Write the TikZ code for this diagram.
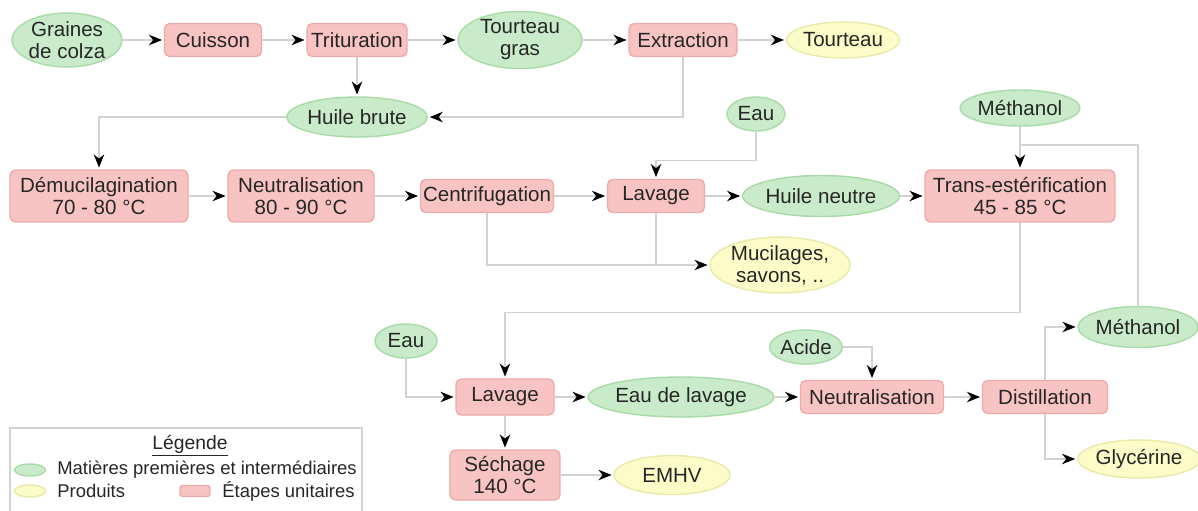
\documentclass[tikz,border=0pt]{standalone}
\usepackage{fontspec}
\setmainfont{Liberation Sans}
\usetikzlibrary{arrows.meta,shapes.geometric}
\definecolor{vert}{HTML}{C9EBC9}
\definecolor{vertbord}{HTML}{A8DBA8}
\definecolor{rose}{HTML}{F8C3C3}
\definecolor{rosebord}{HTML}{F0AAAA}
\definecolor{jaune}{HTML}{FCFCC9}
\definecolor{jaunebord}{HTML}{EAE9A8}
\definecolor{trait}{HTML}{D2D2D2}
\definecolor{texte}{HTML}{262626}
\tikzset{
  boite/.style={inner sep=0pt, align=center, text=texte, line width=0.8pt,
    font=\fontsize{11.7}{12.5}\selectfont},
  matiere/.style={boite, ellipse, fill=vert, draw=vertbord},
  produit/.style={boite, ellipse, fill=jaune, draw=jaunebord},
  etape/.style={boite, rectangle, rounded corners=3pt, fill=rose, draw=rosebord},
  fleche/.style={draw=trait, line width=0.6pt, shorten >=1pt,
    -{Stealth[length=7.5pt,width=6pt,color=black]}},
  ligne/.style={draw=trait, line width=0.6pt},
  legtexte/.style={anchor=west, inner sep=0pt, text=texte, font=\fontsize{10.5}{12}\selectfont}
}
\begin{document}
\begin{tikzpicture}[x=0.02cm,y=-0.02cm]
  \useasboundingbox[fill=white] (0,0) rectangle (1198,511);
  \node[matiere, minimum width=2.2cm, minimum height=1.08cm] (graines) at (67,40) {Graines\\de colza};
  \node[etape, minimum width=1.94cm, minimum height=0.66cm] (cuisson) at (213,40) {Cuisson};
  \node[etape, minimum width=2.0cm, minimum height=0.66cm] (trituration) at (357,40) {Trituration};
  \node[matiere, minimum width=2.48cm, minimum height=1.08cm] (tgras) at (520,40) {Tourteau\\gras};
  \node[etape, minimum width=2.16cm, minimum height=0.66cm] (extraction) at (683,40) {Extraction};
  \node[produit, minimum width=2.0cm, minimum height=0.72cm] (tourteau) at (843,40) {Tourteau};
  \node[matiere, minimum width=2.4cm, minimum height=0.8cm] (hbrute) at (357,117) {Huile brute};
  \node[matiere, minimum width=1.16cm, minimum height=0.68cm] (eauhaut) at (756,114) {Eau};
  \node[matiere, minimum width=2.4cm, minimum height=0.72cm] (methhaut) at (1020,108) {Méthanol};
  \node[etape, minimum width=3.56cm, minimum height=1.04cm] (demu) at (99,196) {Démucilagination\\70 - 80 °C};
  \node[etape, minimum width=2.92cm, minimum height=1.04cm] (neutrahaut) at (301,196) {Neutralisation\\80 - 90 °C};
  \node[etape, minimum width=2.66cm, minimum height=0.66cm] (centri) at (487,196) {Centrifugation};
  \node[etape, minimum width=1.94cm, minimum height=0.66cm] (lavagehaut) at (656,196) {Lavage};
  \node[matiere, minimum width=2.56cm, minimum height=0.82cm] (hneutre) at (821,196) {Huile neutre};
  \node[etape, minimum width=3.8cm, minimum height=1.04cm] (trans) at (1020,196) {Trans-estérification\\45 - 85 °C};
  \node[produit, minimum width=2.8cm, minimum height=1.04cm] (mucil) at (780,265) {Mucilages,\\savons, ..};
  \node[matiere, minimum width=1.24cm, minimum height=0.68cm] (eaubas) at (406,341) {Eau};
  \node[etape, minimum width=1.96cm, minimum height=0.72cm] (lavagebas) at (505,397) {Lavage};
  \node[matiere, minimum width=2.96cm, minimum height=0.8cm] (eaulav) at (681,397) {Eau de lavage};
  \node[matiere, minimum width=1.4cm, minimum height=0.68cm] (acide) at (806,347) {Acide};
  \node[etape, minimum width=2.86cm, minimum height=0.66cm] (neutrabas) at (872,397) {Neutralisation};
  \node[etape, minimum width=2.5cm, minimum height=0.66cm] (distil) at (1045,397) {Distillation};
  \node[matiere, minimum width=2.4cm, minimum height=0.82cm] (methbas) at (1138,327) {Méthanol};
  \node[produit, minimum width=2.36cm, minimum height=0.76cm] (glyc) at (1139,459) {Glycérine};
  \node[etape, minimum width=2.2cm, minimum height=1.0cm] (sechage) at (505,475) {Séchage\\140 °C};
  \node[produit, minimum width=2.32cm, minimum height=0.78cm] (emhv) at (672,475) {EMHV};
  \coordinate (jonction) at (1020,145);

  \draw[fleche] (graines) -- (cuisson);
  \draw[fleche] (cuisson) -- (trituration);
  \draw[fleche] (trituration) -- (tgras);
  \draw[fleche] (tgras) -- (extraction);
  \draw[fleche] (extraction) -- (tourteau);
  \draw[fleche] (trituration) -- (hbrute);
  \draw[fleche] (extraction.south) |- (hbrute.east);
  \draw[fleche] (hbrute.west) -| (demu.north);
  \draw[fleche] (demu) -- (neutrahaut);
  \draw[fleche] (neutrahaut) -- (centri);
  \draw[fleche] (centri) -- (lavagehaut);
  \draw[fleche] (lavagehaut) -- (hneutre);
  \draw[fleche] (hneutre) -- (trans);
  \draw[fleche] (eauhaut.south) -- ++(0,29) -| (lavagehaut.north);
  \draw[fleche] (centri.south) |- (mucil.west);
  \draw[ligne] (lavagehaut.south) -- (lavagehaut.south |- mucil.west);
  \draw[fleche] (methhaut) -- (trans);
  \draw[ligne] (methbas.north) |- (jonction);
  \draw[fleche] (trans.south) -- ++(0,90) -| (lavagebas.north);
  \draw[fleche] (eaubas.south) |- (lavagebas.west);
  \draw[fleche] (lavagebas) -- (eaulav);
  \draw[fleche] (eaulav) -- (neutrabas);
  \draw[fleche] (neutrabas) -- (distil);
  \draw[fleche] (acide.east) -| (neutrabas.north);
  \draw[fleche] (distil.north) |- (methbas.west);
  \draw[fleche] (distil.south) |- (glyc.west);
  \draw[fleche] (lavagebas) -- (sechage);
  \draw[fleche] (sechage) -- (emhv);

  \draw[ligne] (10,520) |- (362,428) -- (362,520);
  \node[text=texte, inner sep=0pt, font=\fontsize{11}{12}\selectfont] (legtitre) at (190,446) {\underline{Légende}};
  \node[matiere, minimum width=0.62cm, minimum height=0.24cm] (legvert) at (30,470) {};
  \node[produit, minimum width=0.62cm, minimum height=0.24cm] (legjaune) at (30,491) {};
  \node[etape, rounded corners=1pt, minimum width=0.6cm, minimum height=0.22cm] (legrose) at (195,491) {};
  \node[legtexte] (legmat) at (57,470) {Matières premières et intermédiaires};
  \node[legtexte] (legprod) at (57,491) {Produits};
  \node[legtexte] (legetape) at (222,491) {Étapes unitaires};
\end{tikzpicture}
\end{document}
